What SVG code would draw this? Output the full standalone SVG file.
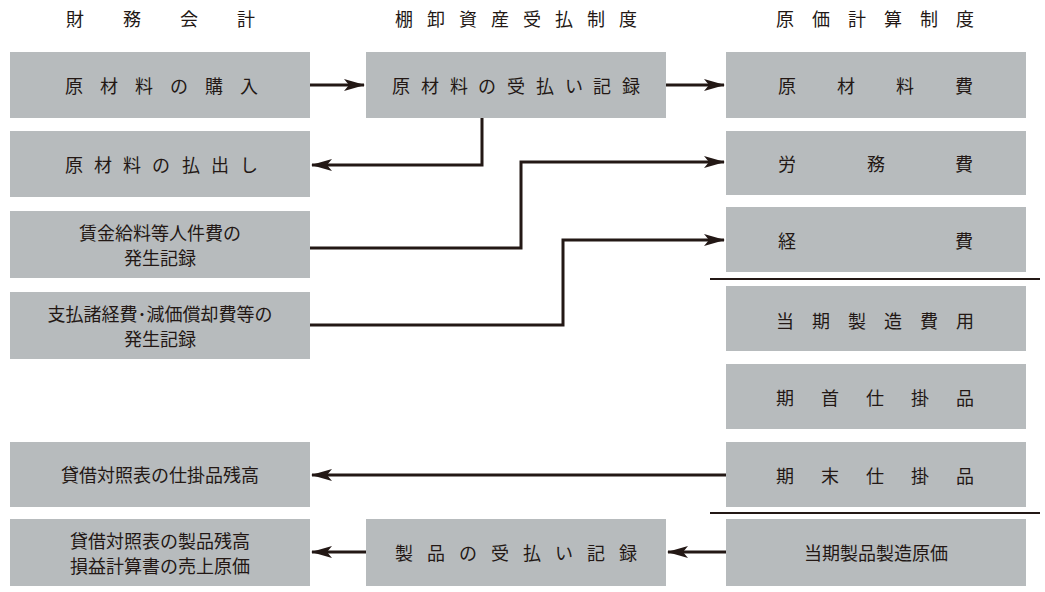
<svg xmlns="http://www.w3.org/2000/svg" width="1045" height="592" viewBox="0 0 1045 592">
<style>
.b{fill:#b7bbbd}
text{font-family:"Noto Sans CJK JP",sans-serif;font-size:18px;fill:#231815;text-anchor:middle;dominant-baseline:central}
.c{fill:none;stroke:#231815;stroke-width:3}
</style>
<defs><marker id="a" markerWidth="22" markerHeight="12" refX="20" refY="6" orient="auto" markerUnits="userSpaceOnUse"><path d="M0,0 L21,6 L0,12 L5,6 Z" fill="#231815"/></marker></defs>
<rect width="1045" height="592" fill="#fff"/>
<g id="headers">
<text x="75 132 189 246" y="18">財務会計</text>
<text x="404 436 468 500 532 564 596 628" y="18">棚卸資産受払制度</text>
<text x="785 821 857 893 929 965" y="18">原価計算制度</text>
</g>
<g id="n1"><rect class="b" x="10" y="52" width="300" height="66"/><text x="74 109 144 179 214 249" y="85">原材料の購入</text></g>
<g id="n2"><rect class="b" x="10" y="131" width="300" height="66"/><text x="74 103 132 161 191 220 249" y="164">原材料の払出し</text></g>
<g id="n3"><rect class="b" x="10" y="211" width="300" height="67"/><text x="160" y="232">賃金給料等人件費の</text><text x="160" y="257">発生記録</text></g>
<g id="n4"><rect class="b" x="10" y="292" width="300" height="67"/><text x="160" y="313">支払諸経費･減価償却費等の</text><text x="160" y="338">発生記録</text></g>
<g id="n5"><rect class="b" x="10" y="442" width="300" height="65"/><text x="160" y="474">貸借対照表の仕掛品残高</text></g>
<g id="n6"><rect class="b" x="10" y="519" width="300" height="67"/><text x="160" y="540">貸借対照表の製品残高</text><text x="160" y="565">損益計算書の売上原価</text></g>
<g id="m1"><rect class="b" x="366" y="52" width="300" height="66"/><text x="401 430 459 487 516 545 574 602 631" y="85">原材料の受払い記録</text></g>
<g id="m2"><rect class="b" x="366" y="519" width="300" height="67"/><text x="404 436 468 500 532 564 596 628" y="552">製品の受払い記録</text></g>
<g id="r1"><rect class="b" x="726" y="52" width="300" height="66"/><text x="787 846 905 964" y="85">原材料費</text></g>
<g id="r2"><rect class="b" x="726" y="131" width="300" height="64"/><text x="787 876 964" y="163">労務費</text></g>
<g id="r3"><rect class="b" x="726" y="207" width="300" height="65"/><text x="787 964" y="240">経費</text></g>
<g id="r4"><rect class="b" x="726" y="286" width="300" height="65"/><text x="785 821 857 893 929 965" y="320">当期製造費用</text></g>
<g id="r5"><rect class="b" x="726" y="364" width="300" height="65"/><text x="785 830 875 920 965" y="397">期首仕掛品</text></g>
<g id="r6"><rect class="b" x="726" y="442" width="300" height="65"/><text x="785 830 875 920 965" y="475">期末仕掛品</text></g>
<g id="r7"><rect class="b" x="726" y="519" width="300" height="67"/><text x="876" y="552">当期製品製造原価</text></g>
<g id="connectors">
<path class="c" d="M310,85 H364" marker-end="url(#a)"/>
<path class="c" d="M666,85 H724" marker-end="url(#a)"/>
<path class="c" d="M482,118 V165 H312" marker-end="url(#a)"/>
<path class="c" d="M310,248 H521 V162 H724" marker-end="url(#a)"/>
<path class="c" d="M310,325 H563 V240 H724" marker-end="url(#a)"/>
<path class="c" d="M726,475 H312" marker-end="url(#a)"/>
<path class="c" d="M726,552 H668" marker-end="url(#a)"/>
<path class="c" d="M366,552 H312" marker-end="url(#a)"/>
<path stroke="#231815" stroke-width="2" d="M710,279 H1040 M710,513 H1040"/>
</g>
</svg>
